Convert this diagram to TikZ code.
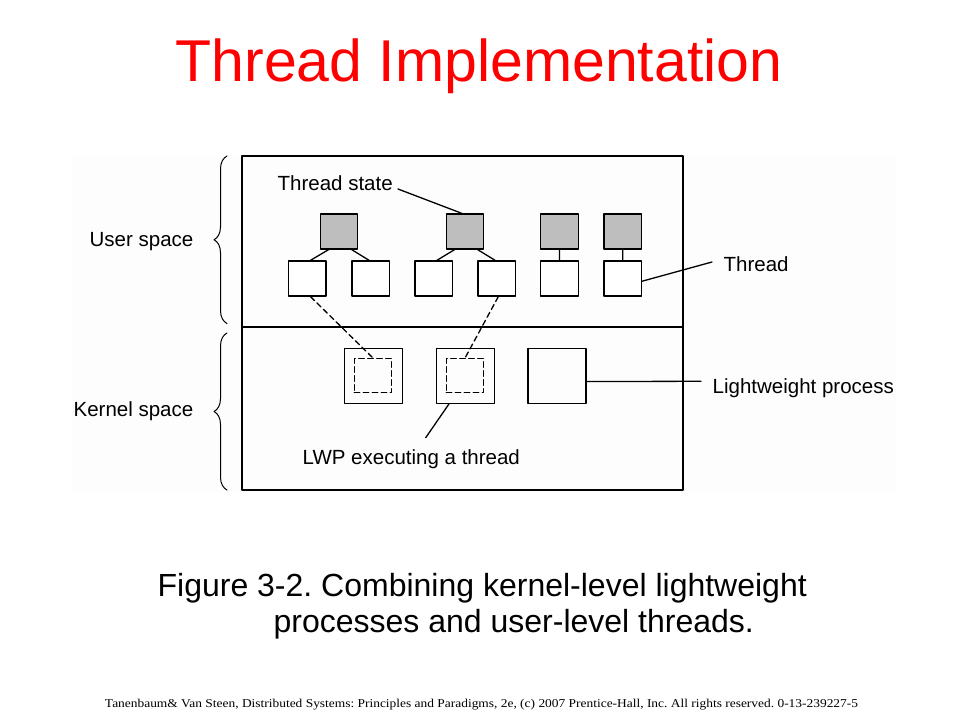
\documentclass[tikz,border=0pt]{standalone}
\usepackage{graphicx}
\usepackage{fontspec}
\setmainfont{Liberation Sans}
\newfontfamily\timesfont{Liberation Serif}
\usetikzlibrary{decorations.pathreplacing}
\frenchspacing
\definecolor{figbg}{RGB}{253,253,253}
\definecolor{stategray}{RGB}{190,190,190}
\tikzset{
	box/.style={draw,minimum width=37.5bp,minimum height=35bp,inner sep=0pt},
	state/.style={box,fill=stategray},
	thread/.style={box,fill=white},
	lwp/.style={draw,minimum width=58bp,minimum height=55bp,inner sep=0pt},
	run/.style={box,dash pattern=on 5.5bp off 3.5bp,minimum height=34bp},
	lbl/.style={anchor=base west,inner sep=0pt,font=\fontsize{20.5bp}{24bp}\selectfont},
	captxt/.style={anchor=base west,inner sep=0pt,font=\fontsize{32bp}{38bp}\selectfont}
}
\begin{document}
\begin{tikzpicture}[x=1bp,y=-1bp,line join=round,line cap=round,line width=1.3bp]
	\useasboundingbox (0,0) rectangle (960,720);
	\fill[figbg] (72,155) rectangle (896,492);
	\node[red,anchor=base,inner sep=0pt,font=\fontsize{59bp}{66bp}\selectfont] (title) at (479,81.7) {Thread Implementation};
	% frame
	\draw (242,156) rectangle (683,490);
	\draw (242,327) -- (683,327);
	% thread states
	\node[state] (s1) at (339,231.5) {};
	\node[state] (s2) at (465,231.5) {};
	\node[state] (s3) at (559.5,231.5) {};
	\node[state] (s4) at (622.7,231.5) {};
	% threads
	\node[thread] (t1) at (307.3,278.5) {};
	\node[thread] (t2) at (370.7,278.5) {};
	\node[thread] (t3) at (433.7,278.5) {};
	\node[thread] (t4) at (496.7,278.5) {};
	\node[thread] (t5) at (559.5,278.5) {};
	\node[thread] (t6) at (622.7,278.5) {};
	\draw (s1.-120)--(t1.80) (s1.-55)--(t2.95) (s2.-120)--(t3.80) (s2.-55)--(t4.95) (s3.south)--(t5.north) (s4.south)--(t6.north);
	% lightweight processes
	\node[lwp] (l1) at (373.2,375.7) {};
	\node[lwp] (l2) at (465.3,375.7) {};
	\node[lwp] (l3) at (557,376.3) {};
	\node[run] (r1) at (373,375.7) {};
	\node[run] (r2) at (465,375.7) {};
	\draw[dash pattern=on 5.5bp off 3.5bp] (t1.-80)--(r1.north) (t4.-85)--(r2.north);
	% labels
	\node[lbl] (tstate) at (277,190.5) {Thread state};
	\coordinate (tsend) at (398,189);
	\draw (tsend)--(s2.100);
	\node[lbl] (user) at (89,246.7) {User space};
	\node[lbl] (thr) at (723,271.7) {Thread};
	\coordinate (thrend) at (712,262);
	\draw (t6.-8)--(thrend);
	\node[lbl] (lwplbl) at (712,393) {Lightweight process};
	\coordinate (lwpend) at (701,381.3);
	\draw (l3.-10)--(lwpend);
	\node[lbl] (kernel) at (73,416.7) {Kernel space};
	\node[lbl] (exec) at (302,464) {LWP executing a thread};
	\coordinate (execend) at (425.7,437.7);
	\draw (l2.-120)--(execend);
	% braces
	\draw[decorate,decoration={brace,amplitude=13bp},line width=1bp] (227,323.5)--(227,156);
	\draw[decorate,decoration={brace,amplitude=13bp},line width=1bp] (227,490)--(227,333);
	% caption
	\node[captxt] (cap1) at (157,596) {Figure 3-2. Combining kernel-level lightweight};
	\node[captxt] (cap2) at (273,632) {processes and user-level threads.};
	\node[anchor=base,inner sep=0pt] (foot) at (481.5,707) {\resizebox{753bp}{\height}{\timesfont\fontsize{12bp}{14bp}\selectfont Tanenbaum\& Van Steen, Distributed Systems: Principles and Paradigms, 2e, (c) 2007 Prentice-Hall, Inc. All rights reserved. 0-13-239227-5}};
\end{tikzpicture}
\end{document}
